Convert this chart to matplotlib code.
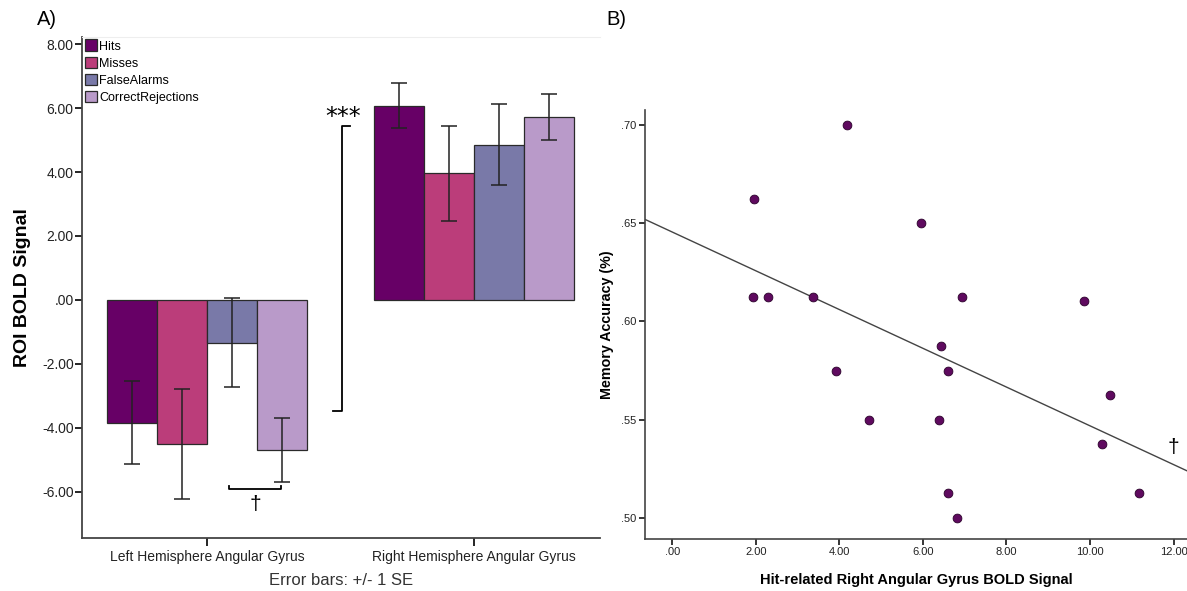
import numpy as np
import matplotlib
matplotlib.use('Agg')
import matplotlib.pyplot as plt
from matplotlib.patches import Patch

# --- panel A data ---
regions = ['Left Hemisphere Angular Gyrus', 'Right Hemisphere Angular Gyrus']
conditions = ['Hits', 'Misses', 'FalseAlarms', 'CorrectRejections']
cond_colors = ['#670066', '#bb3d7a', '#7979a8', '#b99ac9']
left_means = [-3.84, -4.50, -1.33, -4.70]
left_se = [1.30, 1.73, 1.40, 1.00]
right_means = [6.07, 3.96, 4.85, 5.72]
right_se = [0.70, 1.48, 1.26, 0.73]

# --- panel B data ---
hit_bold = [4.18, 1.95, 1.93, 2.30, 3.38, 5.95, 6.94, 9.85, 6.44,
            3.92, 6.59, 10.48, 4.72, 6.38, 10.29, 6.59, 11.18, 6.81]
mem_acc = [0.700, 0.6625, 0.6125, 0.6125, 0.6125, 0.650, 0.6125, 0.6104, 0.5875,
           0.575, 0.575, 0.5625, 0.550, 0.550, 0.5375, 0.5125, 0.5125, 0.500]

plt.rcParams['font.family'] = ['Liberation Sans', 'DejaVu Sans']

fig = plt.figure(figsize=(11.87, 5.91), dpi=100)

# ---------------- panel A ----------------
ax = fig.add_axes([0.0691, 0.0897, 0.4364, 0.8477])
width = 0.187
x = np.arange(len(regions))
means = np.array([left_means, right_means])
ses = np.array([left_se, right_se])
for i, cond in enumerate(conditions):
    ax.bar(x + (i - 1.5) * width, means[:, i], width, color=cond_colors[i],
           edgecolor='#2a2a2a', linewidth=0.9, label=cond)
    ax.errorbar(x + (i - 1.5) * width, means[:, i], yerr=ses[:, i], fmt='none',
                ecolor='#222222', elinewidth=1.1, capsize=5.5, capthick=1.1)

ax.set_xlim(-0.468, 1.472)
ax.set_ylim(-7.44, 8.22)
ax.set_yticks(np.arange(-6, 9, 2))
ax.set_yticklabels(['%.2f' % v if v != 0 else '.00' for v in np.arange(-6, 9, 2)])
ax.set_xticks(x)
ax.set_xticklabels(regions)
ax.tick_params(axis='y', labelsize=10, length=5, width=1.2, pad=1)
ax.tick_params(axis='x', labelsize=10, length=6, width=1.2, pad=3)
for lab in ax.get_xticklabels() + ax.get_yticklabels():
    lab.set_color('#222222')
ax.set_ylabel('ROI BOLD Signal', fontsize=14, fontweight='bold', labelpad=8)
ax.set_xlabel('Error bars: +/- 1 SE', fontsize=12, color='#333333', labelpad=6)
ax.spines['right'].set_visible(False)
ax.spines['top'].set_color('#eeeeee')
for s in ['left', 'bottom']:
    ax.spines[s].set_color('#444444')
    ax.spines[s].set_linewidth(1.3)

# significance brackets
ax.plot([0.535, 0.506, 0.506, 0.472], [5.44, 5.44, -3.47, -3.47], color='black', lw=1.3)
ax.text(0.51, 5.72, '***', ha='center', va='center', fontsize=17, family='DejaVu Sans')
ax.plot([0.082, 0.082, 0.277, 0.277], [-5.80, -5.92, -5.92, -5.80], color='black', lw=1.3)
ax.text(0.18, -6.4, '\u2020', ha='center', va='center', fontsize=15)

handles = [Patch(facecolor=c, edgecolor='#2a2a2a', linewidth=0.9) for c in cond_colors]
ax.legend(handles, conditions, loc='upper left', bbox_to_anchor=(0.0, 1.0),
          frameon=False, fontsize=9, handlelength=1.0, handleheight=1.05,
          handletextpad=0.15, labelspacing=0.32, borderaxespad=0.1, borderpad=0.1)

fig.text(0.031, 0.967, 'A)', fontsize=14.5, va='center')

# ---------------- panel B ----------------
bx = fig.add_axes([0.5434, 0.0880, 0.4566, 0.7259])
bx.scatter(hit_bold, mem_acc, s=40, color='#5f0a5f', edgecolors='#2a002a',
           linewidths=0.6, zorder=3)
slope, intercept = np.polyfit(hit_bold, mem_acc, 1)
xs = np.array([-0.65, 12.4])
bx.plot(xs, intercept + slope * xs, color='#444444', lw=1.0)
bx.text(12.0, 0.536, '\u2020', ha='center', va='center', fontsize=15)

bx.set_xlim(-0.65, 12.32)
bx.set_ylim(0.4893, 0.7076)
bx.set_xticks(np.arange(0, 13, 2))
bx.set_xticklabels(['.00' if v == 0 else '%.2f' % v for v in np.arange(0, 13, 2)])
bx.set_yticks([0.50, 0.55, 0.60, 0.65, 0.70])
bx.set_yticklabels(['.50', '.55', '.60', '.65', '.70'])
bx.tick_params(labelsize=8, length=4, width=1.1, pad=2)
for lab in bx.get_xticklabels() + bx.get_yticklabels():
    lab.set_color('#222222')
bx.set_xlabel('Hit-related Right Angular Gyrus BOLD Signal', fontsize=10.5, fontweight='bold', labelpad=11)
bx.set_ylabel('Memory Accuracy (%)', fontsize=10.3, fontweight='bold', labelpad=5)
bx.spines['right'].set_visible(False)
bx.spines['top'].set_visible(False)
for s in ['left', 'bottom']:
    bx.spines[s].set_color('#444444')
    bx.spines[s].set_linewidth(1.2)

fig.text(0.511, 0.967, 'B)', fontsize=14.5, va='center')

fig.savefig('out.png', dpi=100)
